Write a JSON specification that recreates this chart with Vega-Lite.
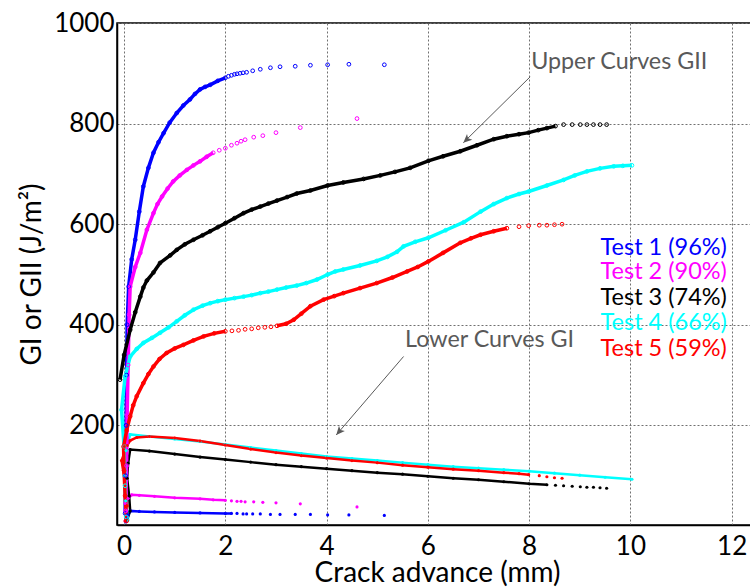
{
  "$schema": "https://vega.github.io/schema/vega-lite/v6.json",
  "autosize": {"type": "none"},
  "padding": {"left": 117, "top": 23, "right": 0, "bottom": 62},
  "width": 640,
  "height": 502,
  "background": "white",
  "config": {
    "font": "Lato",
    "view": {"stroke": "black", "strokeWidth": 1.5},
    "axis": {
      "labelFont": "Lato", "titleFont": "Lato", "labelFontSize": 26, "titleFontSize": 28,
      "labelColor": "black", "titleColor": "black", "titleFontWeight": "normal",
      "domainColor": "black", "domainWidth": 1.5, "ticks": false,
      "grid": true, "gridColor": "#707070", "gridDash": [2, 2], "gridWidth": 1, "gridOpacity": 1
    }
  },
  "datasets": {
    "pts": [
      {"t":1,"c":"II","x":0.02,"y":25},{"t":1,"c":"II","x":0.03,"y":100},{"t":1,"c":"II","x":0.04,"y":200},{"t":1,"c":"II","x":0.05,"y":300},{"t":1,"c":"II","x":0.06,"y":400},{"t":1,"c":"II","x":0.09,"y":476},{"t":1,"c":"II","x":0.15,"y":530},{"t":1,"c":"II","x":0.22,"y":569},{"t":1,"c":"II","x":0.30,"y":625},{"t":1,"c":"II","x":0.38,"y":675},{"t":1,"c":"II","x":0.48,"y":712},{"t":1,"c":"II","x":0.58,"y":742},{"t":1,"c":"II","x":0.68,"y":763},{"t":1,"c":"II","x":0.78,"y":781},{"t":1,"c":"II","x":0.90,"y":802},{"t":1,"c":"II","x":1.04,"y":821},{"t":1,"c":"II","x":1.17,"y":836},{"t":1,"c":"II","x":1.30,"y":848},{"t":1,"c":"II","x":1.40,"y":859},{"t":1,"c":"II","x":1.50,"y":868},{"t":1,"c":"II","x":1.60,"y":873},{"t":1,"c":"II","x":1.70,"y":877},{"t":1,"c":"II","x":1.85,"y":885},{"t":1,"c":"II","x":2.00,"y":891},{"t":1,"c":"II","x":2.06,"y":894},{"t":1,"c":"II","x":2.12,"y":896},{"t":1,"c":"II","x":2.18,"y":898},{"t":1,"c":"II","x":2.23,"y":899},{"t":1,"c":"II","x":2.29,"y":900},{"t":1,"c":"II","x":2.35,"y":901},{"t":1,"c":"II","x":2.42,"y":902},{"t":1,"c":"II","x":2.54,"y":905},{"t":1,"c":"II","x":2.69,"y":908},{"t":1,"c":"II","x":2.89,"y":911},{"t":1,"c":"II","x":3.08,"y":913},{"t":1,"c":"II","x":3.38,"y":914},{"t":1,"c":"II","x":3.68,"y":916},{"t":1,"c":"II","x":4.02,"y":917},{"t":1,"c":"II","x":4.44,"y":918},{"t":1,"c":"II","x":5.14,"y":917},

      {"t":2,"c":"II","x":0.03,"y":30},{"t":2,"c":"II","x":0.05,"y":120},{"t":2,"c":"II","x":0.06,"y":220},{"t":2,"c":"II","x":0.08,"y":320},{"t":2,"c":"II","x":0.10,"y":420},{"t":2,"c":"II","x":0.12,"y":476},{"t":2,"c":"II","x":0.22,"y":515},{"t":2,"c":"II","x":0.32,"y":543},{"t":2,"c":"II","x":0.45,"y":589},{"t":2,"c":"II","x":0.58,"y":622},{"t":2,"c":"II","x":0.66,"y":640},{"t":2,"c":"II","x":0.75,"y":655},{"t":2,"c":"II","x":0.86,"y":671},{"t":2,"c":"II","x":0.97,"y":685},{"t":2,"c":"II","x":1.10,"y":697},{"t":2,"c":"II","x":1.24,"y":708},{"t":2,"c":"II","x":1.37,"y":717},{"t":2,"c":"II","x":1.50,"y":725},{"t":2,"c":"II","x":1.63,"y":734},{"t":2,"c":"II","x":1.76,"y":742},{"t":2,"c":"II","x":1.88,"y":747},{"t":2,"c":"II","x":2.00,"y":751},{"t":2,"c":"II","x":2.12,"y":757},{"t":2,"c":"II","x":2.23,"y":761},{"t":2,"c":"II","x":2.31,"y":765},{"t":2,"c":"II","x":2.39,"y":768},{"t":2,"c":"II","x":2.56,"y":773},{"t":2,"c":"II","x":2.74,"y":776},{"t":2,"c":"II","x":3.00,"y":782},{"t":2,"c":"II","x":3.48,"y":792},{"t":2,"c":"II","x":4.60,"y":810},

      {"t":3,"c":"II","x":-0.08,"y":291},{"t":3,"c":"II","x":0.00,"y":340},{"t":3,"c":"II","x":0.12,"y":390},{"t":3,"c":"II","x":0.22,"y":425},{"t":3,"c":"II","x":0.32,"y":456},{"t":3,"c":"II","x":0.38,"y":474},{"t":3,"c":"II","x":0.45,"y":488},{"t":3,"c":"II","x":0.58,"y":504},{"t":3,"c":"II","x":0.71,"y":523},{"t":3,"c":"II","x":0.91,"y":538},{"t":3,"c":"II","x":1.04,"y":549},{"t":3,"c":"II","x":1.20,"y":560},{"t":3,"c":"II","x":1.37,"y":569},{"t":3,"c":"II","x":1.55,"y":578},{"t":3,"c":"II","x":1.70,"y":586},{"t":3,"c":"II","x":1.85,"y":594},{"t":3,"c":"II","x":2.00,"y":602},{"t":3,"c":"II","x":2.18,"y":612},{"t":3,"c":"II","x":2.36,"y":622},{"t":3,"c":"II","x":2.52,"y":629},{"t":3,"c":"II","x":2.69,"y":635},{"t":3,"c":"II","x":2.85,"y":641},{"t":3,"c":"II","x":3.02,"y":647},{"t":3,"c":"II","x":3.22,"y":654},{"t":3,"c":"II","x":3.41,"y":661},{"t":3,"c":"II","x":3.68,"y":667},{"t":3,"c":"II","x":4.02,"y":677},{"t":3,"c":"II","x":4.33,"y":683},{"t":3,"c":"II","x":4.73,"y":690},{"t":3,"c":"II","x":5.06,"y":697},{"t":3,"c":"II","x":5.35,"y":704},{"t":3,"c":"II","x":5.65,"y":712},{"t":3,"c":"II","x":6.01,"y":726},{"t":3,"c":"II","x":6.30,"y":735},{"t":3,"c":"II","x":6.64,"y":745},{"t":3,"c":"II","x":6.97,"y":757},{"t":3,"c":"II","x":7.30,"y":769},{"t":3,"c":"II","x":7.56,"y":775},{"t":3,"c":"II","x":7.80,"y":779},{"t":3,"c":"II","x":7.99,"y":782},{"t":3,"c":"II","x":8.18,"y":787},{"t":3,"c":"II","x":8.35,"y":791},{"t":3,"c":"II","x":8.52,"y":795},{"t":3,"c":"II","x":8.68,"y":798},{"t":3,"c":"II","x":8.85,"y":798},{"t":3,"c":"II","x":9.01,"y":798},{"t":3,"c":"II","x":9.14,"y":798},{"t":3,"c":"II","x":9.27,"y":798},{"t":3,"c":"II","x":9.40,"y":798},{"t":3,"c":"II","x":9.53,"y":798},

      {"t":4,"c":"II","x":0.04,"y":18},{"t":4,"c":"II","x":0.02,"y":80},{"t":4,"c":"II","x":0.00,"y":158},{"t":4,"c":"II","x":-0.05,"y":231},{"t":4,"c":"II","x":0.02,"y":297},{"t":4,"c":"II","x":0.12,"y":337},{"t":4,"c":"II","x":0.25,"y":352},{"t":4,"c":"II","x":0.38,"y":364},{"t":4,"c":"II","x":0.55,"y":374},{"t":4,"c":"II","x":0.71,"y":384},{"t":4,"c":"II","x":0.88,"y":395},{"t":4,"c":"II","x":1.04,"y":407},{"t":4,"c":"II","x":1.20,"y":419},{"t":4,"c":"II","x":1.37,"y":430},{"t":4,"c":"II","x":1.55,"y":438},{"t":4,"c":"II","x":1.70,"y":443},{"t":4,"c":"II","x":1.85,"y":447},{"t":4,"c":"II","x":2.00,"y":450},{"t":4,"c":"II","x":2.18,"y":453},{"t":4,"c":"II","x":2.36,"y":456},{"t":4,"c":"II","x":2.52,"y":459},{"t":4,"c":"II","x":2.69,"y":463},{"t":4,"c":"II","x":2.85,"y":466},{"t":4,"c":"II","x":3.02,"y":470},{"t":4,"c":"II","x":3.20,"y":474},{"t":4,"c":"II","x":3.41,"y":478},{"t":4,"c":"II","x":3.60,"y":483},{"t":4,"c":"II","x":3.81,"y":490},{"t":4,"c":"II","x":4.02,"y":500},{"t":4,"c":"II","x":4.17,"y":506},{"t":4,"c":"II","x":4.33,"y":510},{"t":4,"c":"II","x":4.66,"y":518},{"t":4,"c":"II","x":4.99,"y":527},{"t":4,"c":"II","x":5.20,"y":535},{"t":4,"c":"II","x":5.39,"y":545},{"t":4,"c":"II","x":5.52,"y":556},{"t":4,"c":"II","x":5.75,"y":565},{"t":4,"c":"II","x":6.01,"y":573},{"t":4,"c":"II","x":6.35,"y":588},{"t":4,"c":"II","x":6.71,"y":604},{"t":4,"c":"II","x":7.04,"y":625},{"t":4,"c":"II","x":7.30,"y":640},{"t":4,"c":"II","x":7.56,"y":652},{"t":4,"c":"II","x":7.80,"y":660},{"t":4,"c":"II","x":7.99,"y":665},{"t":4,"c":"II","x":8.35,"y":677},{"t":4,"c":"II","x":8.68,"y":688},{"t":4,"c":"II","x":8.90,"y":697},{"t":4,"c":"II","x":9.14,"y":705},{"t":4,"c":"II","x":9.40,"y":711},{"t":4,"c":"II","x":9.67,"y":715},{"t":4,"c":"II","x":9.85,"y":716},{"t":4,"c":"II","x":10.03,"y":717},

      {"t":5,"c":"II","x":0.05,"y":10},{"t":5,"c":"II","x":0.02,"y":60},{"t":5,"c":"II","x":0.00,"y":110},{"t":5,"c":"II","x":-0.01,"y":158},{"t":5,"c":"II","x":0.05,"y":190},{"t":5,"c":"II","x":0.12,"y":218},{"t":5,"c":"II","x":0.18,"y":240},{"t":5,"c":"II","x":0.25,"y":258},{"t":5,"c":"II","x":0.38,"y":284},{"t":5,"c":"II","x":0.48,"y":302},{"t":5,"c":"II","x":0.58,"y":317},{"t":5,"c":"II","x":0.70,"y":332},{"t":5,"c":"II","x":0.84,"y":344},{"t":5,"c":"II","x":1.00,"y":353},{"t":5,"c":"II","x":1.17,"y":360},{"t":5,"c":"II","x":1.37,"y":369},{"t":5,"c":"II","x":1.57,"y":377},{"t":5,"c":"II","x":1.78,"y":383},{"t":5,"c":"II","x":2.00,"y":387},{"t":5,"c":"II","x":2.13,"y":388},{"t":5,"c":"II","x":2.26,"y":389},{"t":5,"c":"II","x":2.39,"y":391},{"t":5,"c":"II","x":2.52,"y":392},{"t":5,"c":"II","x":2.65,"y":394},{"t":5,"c":"II","x":2.78,"y":395},{"t":5,"c":"II","x":2.90,"y":396},{"t":5,"c":"II","x":3.02,"y":398},{"t":5,"c":"II","x":3.20,"y":402},{"t":5,"c":"II","x":3.35,"y":410},{"t":5,"c":"II","x":3.50,"y":422},{"t":5,"c":"II","x":3.68,"y":437},{"t":5,"c":"II","x":3.94,"y":450},{"t":5,"c":"II","x":4.15,"y":457},{"t":5,"c":"II","x":4.33,"y":463},{"t":5,"c":"II","x":4.66,"y":473},{"t":5,"c":"II","x":4.99,"y":483},{"t":5,"c":"II","x":5.30,"y":494},{"t":5,"c":"II","x":5.59,"y":506},{"t":5,"c":"II","x":5.80,"y":515},{"t":5,"c":"II","x":6.01,"y":526},{"t":5,"c":"II","x":6.30,"y":543},{"t":5,"c":"II","x":6.64,"y":563},{"t":5,"c":"II","x":6.85,"y":572},{"t":5,"c":"II","x":7.04,"y":579},{"t":5,"c":"II","x":7.30,"y":586},{"t":5,"c":"II","x":7.56,"y":592},{"t":5,"c":"II","x":7.80,"y":595},{"t":5,"c":"II","x":7.99,"y":597},{"t":5,"c":"II","x":8.20,"y":598},{"t":5,"c":"II","x":8.35,"y":598},{"t":5,"c":"II","x":8.50,"y":599},{"t":5,"c":"II","x":8.65,"y":600},

      {"t":1,"c":"I","x":0.03,"y":8},{"t":1,"c":"I","x":0.06,"y":15},{"t":1,"c":"I","x":0.08,"y":22},{"t":1,"c":"I","x":0.12,"y":30},{"t":1,"c":"I","x":0.30,"y":29},{"t":1,"c":"I","x":0.60,"y":28},{"t":1,"c":"I","x":1.00,"y":27},{"t":1,"c":"I","x":1.50,"y":26},{"t":1,"c":"I","x":2.00,"y":25},{"t":1,"c":"I","x":2.12,"y":25},{"t":1,"c":"I","x":2.23,"y":25},{"t":1,"c":"I","x":2.35,"y":24},{"t":1,"c":"I","x":2.42,"y":24},{"t":1,"c":"I","x":2.54,"y":24},{"t":1,"c":"I","x":2.69,"y":24},{"t":1,"c":"I","x":2.89,"y":23},{"t":1,"c":"I","x":3.08,"y":23},{"t":1,"c":"I","x":3.38,"y":23},{"t":1,"c":"I","x":3.68,"y":23},{"t":1,"c":"I","x":4.02,"y":22},{"t":1,"c":"I","x":4.44,"y":22},{"t":1,"c":"I","x":5.14,"y":21},

      {"t":2,"c":"I","x":0.02,"y":10},{"t":2,"c":"I","x":0.05,"y":30},{"t":2,"c":"I","x":0.02,"y":45},{"t":2,"c":"I","x":0.08,"y":55},{"t":2,"c":"I","x":0.15,"y":62},{"t":2,"c":"I","x":0.30,"y":61},{"t":2,"c":"I","x":0.60,"y":59},{"t":2,"c":"I","x":1.00,"y":56},{"t":2,"c":"I","x":1.50,"y":54},{"t":2,"c":"I","x":1.76,"y":52},{"t":2,"c":"I","x":2.00,"y":51},{"t":2,"c":"I","x":2.12,"y":50},{"t":2,"c":"I","x":2.23,"y":49},{"t":2,"c":"I","x":2.31,"y":49},{"t":2,"c":"I","x":2.39,"y":48},{"t":2,"c":"I","x":2.56,"y":48},{"t":2,"c":"I","x":2.74,"y":47},{"t":2,"c":"I","x":3.00,"y":46},{"t":2,"c":"I","x":3.48,"y":44},{"t":2,"c":"I","x":4.60,"y":38},

      {"t":3,"c":"I","x":0.06,"y":12},{"t":3,"c":"I","x":0.12,"y":30},{"t":3,"c":"I","x":0.10,"y":60},{"t":3,"c":"I","x":0.06,"y":95},{"t":3,"c":"I","x":0.08,"y":125},{"t":3,"c":"I","x":0.12,"y":152},{"t":3,"c":"I","x":0.50,"y":149},{"t":3,"c":"I","x":1.00,"y":143},{"t":3,"c":"I","x":1.50,"y":137},{"t":3,"c":"I","x":2.00,"y":132},{"t":3,"c":"I","x":2.50,"y":127},{"t":3,"c":"I","x":3.00,"y":122},{"t":3,"c":"I","x":3.50,"y":118},{"t":3,"c":"I","x":4.00,"y":114},{"t":3,"c":"I","x":4.50,"y":110},{"t":3,"c":"I","x":5.00,"y":106},{"t":3,"c":"I","x":5.50,"y":103},{"t":3,"c":"I","x":6.00,"y":99},{"t":3,"c":"I","x":6.50,"y":95},{"t":3,"c":"I","x":7.00,"y":92},{"t":3,"c":"I","x":7.50,"y":88},{"t":3,"c":"I","x":8.00,"y":84},{"t":3,"c":"I","x":8.35,"y":82},{"t":3,"c":"I","x":8.52,"y":81},{"t":3,"c":"I","x":8.68,"y":80},{"t":3,"c":"I","x":8.85,"y":79},{"t":3,"c":"I","x":9.01,"y":78},{"t":3,"c":"I","x":9.14,"y":77},{"t":3,"c":"I","x":9.27,"y":77},{"t":3,"c":"I","x":9.40,"y":76},{"t":3,"c":"I","x":9.53,"y":75},

      {"t":4,"c":"I","x":0.08,"y":12},{"t":4,"c":"I","x":0.03,"y":50},{"t":4,"c":"I","x":0.00,"y":100},{"t":4,"c":"I","x":0.04,"y":150},{"t":4,"c":"I","x":0.12,"y":182},{"t":4,"c":"I","x":0.50,"y":178},{"t":4,"c":"I","x":1.00,"y":173},{"t":4,"c":"I","x":1.50,"y":168},{"t":4,"c":"I","x":2.00,"y":162},{"t":4,"c":"I","x":2.50,"y":156},{"t":4,"c":"I","x":3.00,"y":150},{"t":4,"c":"I","x":3.50,"y":144},{"t":4,"c":"I","x":4.00,"y":138},{"t":4,"c":"I","x":4.50,"y":134},{"t":4,"c":"I","x":5.00,"y":130},{"t":4,"c":"I","x":5.50,"y":126},{"t":4,"c":"I","x":6.00,"y":122},{"t":4,"c":"I","x":6.50,"y":118},{"t":4,"c":"I","x":7.00,"y":115},{"t":4,"c":"I","x":7.50,"y":112},{"t":4,"c":"I","x":8.00,"y":109},{"t":4,"c":"I","x":8.50,"y":105},{"t":4,"c":"I","x":9.00,"y":101},{"t":4,"c":"I","x":9.50,"y":97},{"t":4,"c":"I","x":10.03,"y":93},

      {"t":5,"c":"I","x":0.02,"y":10},{"t":5,"c":"I","x":0.06,"y":40},{"t":5,"c":"I","x":0.03,"y":80},{"t":5,"c":"I","x":-0.05,"y":130},{"t":5,"c":"I","x":0.06,"y":160},{"t":5,"c":"I","x":0.12,"y":170},{"t":5,"c":"I","x":0.25,"y":176},{"t":5,"c":"I","x":0.50,"y":178},{"t":5,"c":"I","x":1.00,"y":175},{"t":5,"c":"I","x":1.50,"y":169},{"t":5,"c":"I","x":2.00,"y":161},{"t":5,"c":"I","x":2.50,"y":153},{"t":5,"c":"I","x":3.00,"y":146},{"t":5,"c":"I","x":3.50,"y":140},{"t":5,"c":"I","x":4.00,"y":135},{"t":5,"c":"I","x":4.50,"y":130},{"t":5,"c":"I","x":5.00,"y":126},{"t":5,"c":"I","x":5.50,"y":121},{"t":5,"c":"I","x":6.00,"y":117},{"t":5,"c":"I","x":6.50,"y":113},{"t":5,"c":"I","x":7.00,"y":110},{"t":5,"c":"I","x":7.50,"y":106},{"t":5,"c":"I","x":7.80,"y":104},{"t":5,"c":"I","x":7.99,"y":102},{"t":5,"c":"I","x":8.20,"y":100},{"t":5,"c":"I","x":8.35,"y":98},{"t":5,"c":"I","x":8.50,"y":96},{"t":5,"c":"I","x":8.65,"y":95}
    ],
    "legend": [
      {"t":1,"label":"Test 1 (96%)","x":9.41,"y":553},
      {"t":2,"label":"Test 2 (90%)","x":9.41,"y":504},
      {"t":3,"label":"Test 3 (74%)","x":9.41,"y":454},
      {"t":4,"label":"Test 4 (66%)","x":9.41,"y":403},
      {"t":5,"label":"Test 5 (59%)","x":9.41,"y":351}
    ],
    "notes": [
      {"label":"Upper Curves GII","x":8.04,"y":923},
      {"label":"Lower Curves GI","x":5.55,"y":370}
    ],
    "arrows": [
      {"id":"u","x":6.70,"y":762,"xs":8.02,"ys":893},
      {"id":"l","x":4.19,"y":181,"xs":5.52,"ys":337}
    ]
  },
  "encoding": {
    "x": {"field": "x", "type": "quantitative",
      "scale": {"domain": [-0.14, 12.5], "nice": false, "zero": false},
      "axis": {"values": [0,2,4,6,8,10,12], "title": "Crack advance (mm)", "labelPadding": 8, "titlePadding": 0}},
    "y": {"field": "y", "type": "quantitative",
      "scale": {"domain": [2, 1000], "nice": false, "zero": false},
      "axis": {"values": [200,400,600,800,1000], "format": "d", "title": "GI or GII (J/m²)", "labelPadding": 3, "titlePadding": 7}}
  },
  "layer": [
    {
      "data": {"name": "pts"},
      "transform": [{"filter": "datum.c == 'I' && ((datum.t == 1 && datum.x <= 2.2) || (datum.t == 2 && datum.x <= 2.0) || (datum.t == 3 && datum.x <= 8.4) || datum.t == 4 || (datum.t == 5 && datum.x <= 8.0))"}],
      "mark": {"type": "line", "strokeWidth": 2.5},
      "encoding": {
        "color": {"field": "t", "type": "nominal", "scale": {"domain": [1,2,3,4,5], "range": ["#0000ff","#ff00ff","#000000","#00ffff","#ff0000"]}, "legend": null},
        "order": {"value": null}
      }
    },
    {
      "data": {"name": "pts"},
      "transform": [{"filter": "datum.c == 'II' && ((datum.t == 1 && datum.x <= 2.0) || (datum.t == 2 && datum.x <= 1.76) || (datum.t == 3 && datum.x <= 8.52) || datum.t == 4 || (datum.t == 5 && datum.x <= 2.0))"}],
      "mark": {"type": "line", "strokeWidth": 3.5},
      "encoding": {
        "color": {"field": "t", "type": "nominal", "legend": null},
        "order": {"value": null}
      }
    },
    {
      "data": {"name": "pts"},
      "transform": [{"filter": "datum.c == 'II' && datum.t == 5 && datum.x >= 3.0 && datum.x <= 7.56"}],
      "mark": {"type": "line", "strokeWidth": 3.5},
      "encoding": {
        "color": {"field": "t", "type": "nominal", "legend": null},
        "order": {"value": null}
      }
    },
    {
      "data": {"name": "pts"},
      "transform": [{"filter": "datum.c == 'I'"}],
      "mark": {"type": "point", "shape": "circle", "filled": true, "size": 10, "opacity": 1},
      "encoding": {"color": {"field": "t", "type": "nominal", "legend": null}}
    },
    {
      "data": {"name": "pts"},
      "transform": [{"filter": "datum.c == 'II'"}],
      "mark": {"type": "point", "shape": "circle", "filled": false, "size": 14, "strokeWidth": 1, "opacity": 1},
      "encoding": {"color": {"field": "t", "type": "nominal", "legend": null}}
    },
    {
      "data": {"name": "legend"},
      "mark": {"type": "text", "align": "left", "baseline": "middle", "fontSize": 23.5, "font": "Lato"},
      "encoding": {
        "text": {"field": "label"},
        "color": {"field": "t", "type": "nominal", "legend": null}
      }
    },
    {
      "data": {"name": "notes"},
      "mark": {"type": "text", "align": "left", "baseline": "middle", "fontSize": 23.3, "font": "Lato", "color": "#595959"},
      "encoding": {"text": {"field": "label"}}
    },
    {
      "data": {"name": "arrows"},
      "mark": {"type": "rule", "color": "#595959", "strokeWidth": 1},
      "encoding": {"x2": {"field": "xs"}, "y2": {"field": "ys"}}
    },
    {
      "data": {"name": "arrows"},
      "transform": [{"filter": "datum.id == 'u'"}],
      "mark": {"type": "point", "shape": "M0,0L-0.45,1L0,0.75L0.45,1Z", "filled": true, "size": 300, "color": "#595959", "opacity": 1, "angle": 227},
      "encoding": {}
    },
    {
      "data": {"name": "arrows"},
      "transform": [{"filter": "datum.id == 'l'"}],
      "mark": {"type": "point", "shape": "M0,0L-0.45,1L0,0.75L0.45,1Z", "filled": true, "size": 300, "color": "#595959", "opacity": 1, "angle": 221},
      "encoding": {}
    }
  ]
}
